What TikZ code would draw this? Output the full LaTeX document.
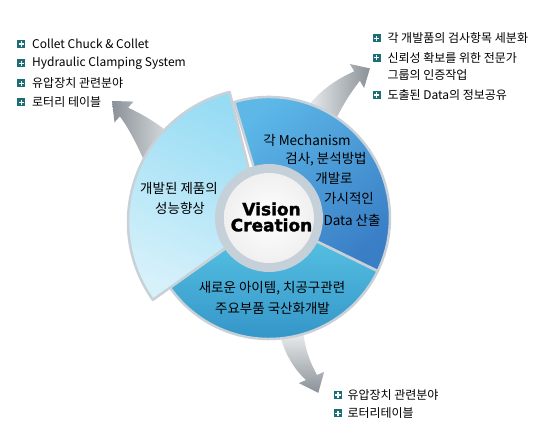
\documentclass[tikz,border=0pt]{standalone}
\usepackage{fontspec}
\setmainfont{Noto Sans CJK KR}
\newfontfamily\vcfont{DejaVu Sans}[BoldFeatures={FakeBold=1.6}]
\usetikzlibrary{calc}
\definecolor{bulletc}{HTML}{1B6E76}
\definecolor{bord}{HTML}{C9D1D8}
\definecolor{arrdark}{HTML}{8A9197}
\definecolor{arrlight}{HTML}{EEF1F3}
\definecolor{ringc}{HTML}{C6D0D9}
\definecolor{rtop}{HTML}{5DB8E8}
\definecolor{rbot}{HTML}{3A7FC6}
\definecolor{btop}{HTML}{55C0E2}
\definecolor{bbot}{HTML}{2F8EC4}
\definecolor{ltop}{HTML}{98DCF4}
\definecolor{lbot}{HTML}{D6F1FA}
\begin{document}
\begin{tikzpicture}[x=1pt,y=1pt,
  bulletbox/.style={fill=bulletc, minimum size=8pt, inner sep=0pt,
    path picture={\draw[white, line width=1.4pt]
      ([xshift=-2.6pt]path picture bounding box.center) -- ([xshift=2.6pt]path picture bounding box.center)
      ([yshift=-2.6pt]path picture bounding box.center) -- ([yshift=2.6pt]path picture bounding box.center);}},
  listtext/.style={anchor=west, inner sep=0pt, font=\fontsize{12}{14}\selectfont},
  segtext/.style={inner sep=0pt, font=\fontsize{13.5}{16}\selectfont},
  vctext/.style={inner sep=0pt, align=center, font=\vcfont\bfseries\fontsize{17}{16}\selectfont},
  segment/.style={draw=bord, line width=2.5pt, line join=round}
]
\fill[white] (0,0) rectangle (541,435);
\useasboundingbox (0,0) rectangle (541,435);

\coordinate (C) at (269,217);
\coordinate (L) at (262,213);

% gray arrows (behind the ring)
\shade[left color=arrdark, right color=arrlight]
  (128.1,327.4) -- (133.5,333.4) -- (112,334) -- (114.5,312.6) -- (119.9,318.6)
  .. controls (130,305) and (140,285) .. (150,260) -- (185,287)
  .. controls (168,305) and (150,317) .. (128.1,327.4) -- cycle;
\shade[left color=arrlight, right color=arrdark]
  (305,325) .. controls (318,343) and (335,355) .. (354.2,363.7)
  -- (349.9,371) -- (369.9,366.6) -- (364.1,347) -- (359.8,354.3)
  .. controls (353,345) and (345,335) .. (333,310) -- cycle;
\shade[top color=arrlight, bottom color=arrdark]
  (280,100) .. controls (285,80) and (295,65) .. (306,55)
  -- (298.9,51.9) -- (318.3,42.2) -- (324.1,63.1) -- (317,60)
  .. controls (310,73) and (305,85) .. (303,105) -- cycle;

% ring segments
\path[segment, top color=btop, bottom color=bbot]
  ($(C)+(-26:48)$) -- ($(C)+(-26:121)$) arc[start angle=-26, end angle=-145, radius=121]
  -- ($(C)+(-145:48)$) arc[start angle=-145, end angle=-26, radius=48] -- cycle;
\path[segment, top color=rtop, bottom color=rbot, shading angle=40]
  ($(C)+(106.7:48)$) -- ($(C)+(106.7:121)$) arc[start angle=106.7, end angle=-26, radius=121]
  -- ($(C)+(-26:48)$) arc[start angle=-26, end angle=106.7, radius=48] -- cycle;
\path[segment, top color=ltop, bottom color=lbot, shading angle=-25]
  ($(L)+(104:40)$) -- ($(L)+(104:134)$) arc[start angle=104, end angle=215.5, radius=134]
  -- ($(L)+(215.5:40)$) arc[start angle=215.5, end angle=104, radius=40] -- cycle;

% inner circles
\node[circle, fill=ringc, minimum size=108pt, inner sep=0pt] (ring) at (C) {};
\node[circle, inner color=white, outer color=gray!12, minimum size=90pt, inner sep=0pt] (core) at (C) {};

% Vision Creation
\node[vctext] (vc) at (271.5,218) {Vision\\Creation};

% segment texts
\node[segtext] (r1) at (307,295) {각 Mechanism};
\node[segtext] (r2) at (326,276) {검사, 분석방법};
\node[segtext] (r3) at (334,257) {개발로};
\node[segtext] (r4) at (349,237) {가시적인};
\node[segtext] (r5) at (352,215) {Data 산출};

\node[segtext] (l1) at (179,247) {개발된 제품의};
\node[segtext] (l2) at (180,227) {성능향상};

\node[segtext] (b1) at (272,147) {새로운 아이템, 치공구관련};
\node[segtext] (b2) at (272.5,127) {주요부품 국산화개발};

% top-left list
\node[bulletbox] (ta) at (21.3,391) {};
\node[listtext] (tat) at (32,391) {Collet Chuck \& Collet};
\node[bulletbox] (tb) at (21.3,371.7) {};
\node[listtext] (tbt) at (32,371.7) {Hydraulic Clamping System};
\node[bulletbox] (tc) at (21.3,351.7) {};
\node[listtext] (tct) at (32,351.7) {유압장치 관련분야};
\node[bulletbox] (td) at (21.3,332.7) {};
\node[listtext] (tdt) at (32,332.7) {로터리 테이블};

% top-right list
\node[bulletbox] (ra) at (376.7,396.7) {};
\node[listtext] (rat) at (387.3,396.7) {각 개발품의 검사항목 세분화};
\node[bulletbox] (rb) at (376.7,377.3) {};
\node[listtext] (rbt) at (387.3,377.3) {신뢰성 확보를 위한 전문가};
\node[listtext] (rct) at (387.3,360) {그룹의 인증작업};
\node[bulletbox] (rd) at (376.7,340) {};
\node[listtext] (rdt) at (387.3,340) {도출된 Data의 정보공유};

% bottom list
\node[bulletbox] (ba) at (338,40) {};
\node[listtext] (bat) at (347.3,40) {유압장치 관련분야};
\node[bulletbox] (bb) at (338,21.7) {};
\node[listtext] (bbt) at (347.3,21.7) {로터리테이블};
\end{tikzpicture}
\end{document}
